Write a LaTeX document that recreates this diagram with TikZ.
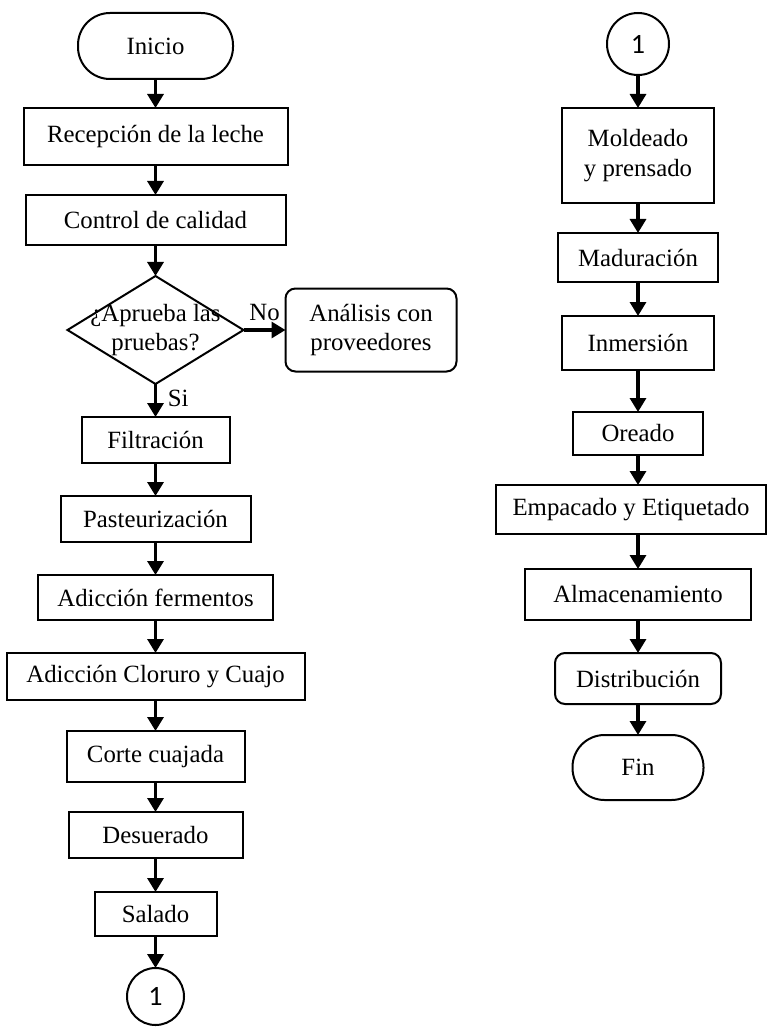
\documentclass[tikz,border=0pt]{standalone}
\usepackage{fontspec}
\setmainfont{Liberation Serif}
\newfontfamily\numfont{Carlito}
\usepackage{tikz}
\usetikzlibrary{arrows.meta,positioning,shapes.geometric}

\newcommand{\stepfont}{\fontsize{12.4}{14.6}\selectfont}

\begin{document}
\begin{tikzpicture}[
    process/.style={rectangle, draw=black, line width=1pt, inner sep=2pt, outer sep=0pt,
        align=center, font=\stepfont},
    terminal/.style={rectangle, draw=black, line width=1pt, rounded corners=16pt,
        inner sep=2pt, outer sep=0pt, align=center, font=\stepfont},
    softbox/.style={rectangle, draw=black, line width=1pt, rounded corners=5pt,
        inner sep=2pt, outer sep=0pt, align=center, font=\stepfont},
    decision/.style={diamond, draw=black, line width=1pt, inner sep=0pt, outer sep=0pt},
    connector/.style={circle, draw=black, line width=1pt, inner sep=0pt, outer sep=0pt,
        font=\numfont\fontsize{14}{16}\selectfont},
    arr/.style={-{Triangle[length=7pt,width=8pt]}, line width=1.6pt}
]
\useasboundingbox (0,0) rectangle (383pt,-513.5pt);

% left column
\node[terminal, minimum width=77.5pt, minimum height=33pt] (inicio) at (77.75pt,-23pt) {Inicio};
\node[process, minimum width=132pt, minimum height=28.5pt, below=14.5pt of inicio] (recep) {Recepción de la leche};
\node[process, minimum width=130pt, minimum height=25pt, below=15pt of recep] (control) {Control de calidad};
\node[decision, minimum width=88pt, minimum height=54pt, below=15.5pt of control,
    label={[font=\stepfont, align=center]center:¿Aprueba las\\pruebas?}] (prueba) {};
\node[softbox, minimum width=85.5pt, minimum height=41.5pt, right=21pt of prueba] (analisis) {Análisis con\\proveedores};
\node[process, minimum width=74pt, minimum height=23pt, below=16.5pt of prueba] (filtra) {Filtración};
\node[process, minimum width=95pt, minimum height=23pt, below=16.5pt of filtra] (pasteur) {Pasteurización};
\node[process, minimum width=117.5pt, minimum height=22.5pt, below=16.5pt of pasteur] (ferment) {Adicción fermentos};
\node[process, minimum width=149pt, minimum height=23.5pt, below=16.5pt of ferment] (cuajo) {Adicción Cloruro y Cuajo};
\node[process, minimum width=89pt, minimum height=25.5pt, below=15.5pt of cuajo] (corte) {Corte cuajada};
\node[process, minimum width=87pt, minimum height=23pt, below=15pt of corte] (desuer) {Desuerado};
\node[process, minimum width=61pt, minimum height=22pt, below=17pt of desuer] (salado) {Salado};
\node[connector, minimum size=28.5pt, below=16pt of salado] (conA) {1};

\draw[arr] (inicio) -- (recep);
\draw[arr] (recep) -- (control);
\draw[arr] (control) -- (prueba);
\draw[arr] (prueba) -- node[above, font=\stepfont, inner sep=4pt] {No} (analisis);
\draw[arr] (prueba) -- node[right, font=\stepfont, pos=0.45, xshift=2pt] {Si} (filtra);
\draw[arr] (filtra) -- (pasteur);
\draw[arr] (pasteur) -- (ferment);
\draw[arr] (ferment) -- (cuajo);
\draw[arr] (cuajo) -- (corte);
\draw[arr] (corte) -- (desuer);
\draw[arr] (desuer) -- (salado);
\draw[arr] (salado) -- (conA);

% right column
\node[connector, minimum size=31pt] (conB) at (319pt,-22pt) {1};
\node[process, minimum width=76pt, minimum height=47.5pt, below=16.5pt of conB] (molde) {Moldeado\\y prensado};
\node[process, minimum width=80pt, minimum height=24.5pt, below=15pt of molde] (madura) {Maduración};
\node[process, minimum width=76pt, minimum height=27pt, below=17pt of madura] (inmer) {Inmersión};
\node[process, minimum width=65pt, minimum height=21.5pt, below=21pt of inmer] (oreado) {Oreado};
\node[process, minimum width=135pt, minimum height=24.5pt, below=15pt of oreado, xshift=-3.5pt] (empaque) {Empacado y Etiquetado};
\node[process, minimum width=113pt, minimum height=25.5pt, below=17.5pt of empaque, xshift=3.5pt] (almacen) {Almacenamiento};
\node[softbox, minimum width=83pt, minimum height=25.5pt, below=16.5pt of almacen] (distrib) {Distribución};
\node[terminal, minimum width=65.5pt, minimum height=32.5pt, below=15.5pt of distrib] (fin) {Fin};

\draw[arr] (conB) -- (molde);
\draw[arr] (molde) -- (madura);
\draw[arr] (madura) -- (inmer);
\draw[arr] (inmer) -- (oreado);
\draw[arr] (oreado.south) -- (oreado.south |- empaque.north);
\draw[arr] (almacen.north |- empaque.south) -- (almacen.north);
\draw[arr] (almacen) -- (distrib);
\draw[arr] (distrib) -- (fin);
\end{tikzpicture}
\end{document}
